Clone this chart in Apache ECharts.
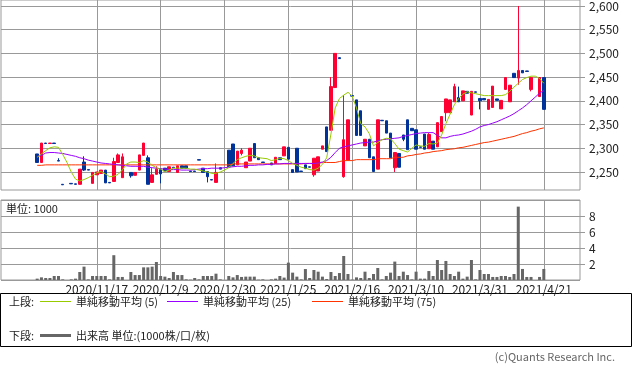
<!DOCTYPE html>
<html><head><meta charset="utf-8">
<script src="https://cdn.jsdelivr.net/npm/echarts@6/dist/echarts.min.js"></script>
<style>html,body{margin:0;padding:0;background:#fff}#c{width:633px;height:375px}</style>
</head><body><div id="c"></div>
<script>
const dates = [
'2020/10/27','2020/10/28','2020/10/29','2020/10/30',
'2020/11/2','2020/11/4','2020/11/5','2020/11/6','2020/11/9','2020/11/10','2020/11/11','2020/11/12','2020/11/13','2020/11/16','2020/11/17','2020/11/18','2020/11/19','2020/11/20','2020/11/24','2020/11/25','2020/11/26','2020/11/27','2020/11/30',
'2020/12/1','2020/12/2','2020/12/3','2020/12/4','2020/12/7','2020/12/8','2020/12/9','2020/12/10','2020/12/11','2020/12/14','2020/12/15','2020/12/16','2020/12/17','2020/12/18','2020/12/21','2020/12/22','2020/12/23','2020/12/24','2020/12/25','2020/12/28','2020/12/29','2020/12/30',
'2021/1/4','2021/1/5','2021/1/6','2021/1/7','2021/1/8','2021/1/12','2021/1/13','2021/1/14','2021/1/15','2021/1/18','2021/1/19','2021/1/20','2021/1/21','2021/1/22','2021/1/25','2021/1/26','2021/1/27','2021/1/28','2021/1/29',
'2021/2/1','2021/2/2','2021/2/3','2021/2/4','2021/2/5','2021/2/8','2021/2/9','2021/2/10','2021/2/12','2021/2/15','2021/2/16','2021/2/17','2021/2/18','2021/2/19','2021/2/22','2021/2/24','2021/2/25','2021/2/26',
'2021/3/1','2021/3/2','2021/3/3','2021/3/4','2021/3/5','2021/3/8','2021/3/9','2021/3/10','2021/3/11','2021/3/12','2021/3/15','2021/3/16','2021/3/17','2021/3/18','2021/3/19','2021/3/22','2021/3/23','2021/3/24','2021/3/25','2021/3/26','2021/3/29','2021/3/30','2021/3/31',
'2021/4/1','2021/4/2','2021/4/5','2021/4/6','2021/4/7','2021/4/8','2021/4/9','2021/4/12','2021/4/13','2021/4/14','2021/4/15','2021/4/16','2021/4/19','2021/4/20','2021/4/21'
];
const tickLabels = ['2020/11/17','2020/12/9','2020/12/30','2021/1/25','2021/2/16','2021/3/10','2021/3/31','2021/4/21'];
const priceTicks = [2250,2300,2350,2400,2450,2500,2550,2600];

const open = [
2288,2270,2311,2310,2311,2274,2224,null,2226,2225,
2224,2271,2255,2226,2244,2247,2254,2228,2230,2270,
2238,null,2249,2243,2254,2285,2280,2228,2245,2255,
2258,2251,2260,2249,2263,2263,2252,2252,2276,2258,
2251,2234,2228,2259,null,2296,2309,2265,2289,2259,
2273,2310,2280,2271,null,2269,2268,2280,2284,2302,
2255,2300,2252,2265,2261,2244,2252,2298,2345,2338,
2428,2491,2240,2275,2411,2402,2379,2305,2319,2282,
2256,2359,2358,2332,2259,2289,2328,2360,2342,2339,
2303,2330,2299,2315,2303,2335,2375,2375,2398,2407,
2400,2420,2370,2419,2405,2405,2382,2386,2404,2383,
2424,2398,2458,2448,2464,2463,2424,null,2409,2449];
const close = [
2270,2311,2310,2311,2310,2273,2223,null,2225,2224,
2256,2254,2254,2249,2250,2254,2227,2227,2272,2286,
2282,null,2242,2249,2286,2311,2224,2244,2256,2246,
2252,2261,2259,2263,2258,2258,2251,2251,2275,2249,
2240,2233,2249,2256,null,2261,2263,2294,2296,2271,
2300,2280,2276,2270,null,2265,2281,2276,2303,2277,
2249,2250,2251,2257,2260,2279,2282,2305,2293,2430,
2500,2489,2318,2360,2410,2327,2327,2319,2280,2251,
2360,2358,2332,2280,2291,2260,2319,2297,2337,2298,
2302,2298,2329,2298,2354,2367,2404,2402,2430,2398,
2421,2416,2420,2418,2400,2402,2403,2431,2401,2401,
2449,2433,2449,2464,2459,2462,2449,null,2449,2382];
const low = [
2270,2270,2310,2310,2310,2273,2223,null,2225,2224,
2224,2252,2254,2226,2244,2247,2227,2227,2230,2270,
2238,null,2238,2243,2254,2285,2224,2228,2245,2226,
2252,2251,2259,2249,2258,2258,2251,2251,2275,2249,
2228,2233,2228,2256,null,2261,2263,2265,2285,2259,
2273,2280,2276,2270,null,2265,2268,2276,2284,2277,
2249,2250,2251,2257,2260,2240,2252,2298,2293,2338,
2428,2489,2238,2275,2410,2327,2327,2305,2280,2251,
2256,2358,2332,2280,2250,2260,2315,2297,2337,2298,
2302,2298,2299,2298,2303,2335,2357,2375,2398,2398,
2400,2416,2370,2418,2382,2402,2382,2386,2401,2383,
2424,2398,2449,2434,2459,2462,2420,null,2409,2382];
const high = [
2288,2311,2311,2311,2311,2279,2224,null,2226,2225,
2256,2283,2255,2249,2250,2254,2254,2228,2280,2289,
2289,null,2249,2249,2286,2311,2285,2258,2262,2258,
2258,2261,2260,2263,2263,2263,2252,2252,2276,2258,
2251,2234,2268,2259,null,2296,2309,2294,2300,2271,
2300,2310,2280,2271,null,2269,2281,2280,2303,2302,
2255,2300,2252,2265,2261,2279,2282,2305,2345,2450,
2500,2491,2412,2360,2411,2402,2379,2319,2319,2282,
2360,2359,2358,2332,2291,2289,2328,2360,2342,2339,
2303,2330,2332,2315,2354,2367,2404,2402,2436,2430,
2421,2420,2420,2419,2405,2405,2403,2431,2404,2401,
2449,2433,2458,2600,2464,2463,2449,null,2449,2449];
const volume = [
0.17,0.33,0.25,0.25,0.5,0.5,0.08,0,0.08,0.17,
1.0,1.67,0.08,0.5,0.5,0.5,0.5,0.08,3.1,0.38,
0.38,0,1.0,0.62,0.62,1.58,1.58,1.67,2.25,0.5,
0.42,0.25,1.0,0.62,0.62,0.08,0.04,0.25,0.08,0.5,
0.5,0.5,0.79,0.08,0,0.5,0.33,0.62,0.38,0.42,
0.42,0.42,0.04,0.08,0,0.08,0.17,0.5,0.3,2.17,
0.92,0.42,0.08,1.37,0.25,1.25,1.04,0.42,0.12,1.0,
0.5,0.87,3.0,0.75,0.05,0.33,0.25,1.04,0.25,0.75,
1.5,0.08,0.5,0.92,2.3,0.5,1.04,0.62,0.08,1.04,
0.17,0.17,1.12,0.5,2.5,1.25,2.38,0.75,0.5,1.04,
0.17,0.42,2.5,0.08,1.25,0.75,0.75,0.38,0.38,0.5,
0.5,0.38,0.75,9.17,1.38,0.38,0.38,0,0.38,1.38];
const ma5 = [
2281,2288,2295,2301,2303,2302,2287,2270,2250,2235,
2231,2234,2238,2243,2248,2251,2246,2240,2241,2245,
2254,2267,2271,2271,2270,2274,2271,2264,2259,2256,
2251,2254,2258,2258,2258,2258,2256,2256,2254,2252,
2250,2247,2247,2250,2254,2259,2268,2276,2280,2283,
2285,2284,2280,2279,2278,2274,2276,2279,2278,2274,
2268,2264,2260,2258,2255,2254,2258,2266,2280,2330,
2385,2405,2412,2418,2410,2385,2352,2345,2331,2305,
2312,2318,2321,2320,2310,2298,2295,2292,2300,2307,
2305,2304,2310,2309,2311,2328,2352,2372,2392,2405,
2414,2419,2417,2415,2413,2411,2411,2411,2411,2411,
2413,2420,2429,2437,2445,2449,2452,2452,2447,2437];
const ma25 = [
2283,2285,2290,2291,2291,2290,2289,2287,2285,2283,
2280,2278,2275,2273,2271,2269,2268,2267,2266,2265,
2264,2263,2262,2262,2262,2262,2260,2259,2258,2257,
2256,2255,2255,2255,2254,2254,2254,2255,2256,2257,
2257,2258,2258,2258,2259,2260,2261,2262,2262,2263,
2264,2264,2265,2265,2266,2266,2267,2267,2268,2268,
2268,2268,2268,2268,2268,2268,2269,2271,2274,2281,
2291,2300,2303,2305,2307,2309,2311,2312,2313,2313,
2316,2318,2319,2320,2321,2322,2325,2327,2329,2331,
2332,2333,2333,2333,2327,2322,2322,2325,2327,2328,
2330,2333,2336,2340,2345,2348,2350,2353,2356,2360,
2364,2368,2373,2379,2385,2392,2400,2408,2416,2422];
const ma75 = [
2264,2264,2265,2265,2265,2265,2265,2265,2265,2265,
2265,2265,2265,2265,2265,2265,2265,2265,2265,2265,
2265,2265,2265,2265,2265,2265,2265,2265,2265,2265,
2265,2265,2265,2265,2265,2265,2265,2265,2265,2265,
2265,2265,2265,2265,2265,2265,2267,2267,2267,2267,
2267,2267,2267,2267,2267,2267,2267,2267,2267,2267,
2267,2267,2267,2268,2268,2268,2268,2270,2270,2270,
2270,2272,2274,2274,2274,2276,2276,2276,2276,2276,
2278,2278,2278,2278,2281,2281,2281,2284,2285,2287,
2288,2290,2291,2293,2294,2295,2297,2298,2299,2301,
2302,2304,2306,2308,2310,2312,2313,2315,2317,2319,
2321,2323,2325,2328,2331,2333,2336,2338,2341,2343];

const PAD = 8;
const padL = Array.from({length: PAD}, (_, k) => 'padL' + k);
const padR = Array.from({length: PAD}, (_, k) => 'padR' + k);
const cats = padL.concat(dates, padR);
const blank = Array.from({length: PAD}, () => '-');
const wrap = arr => blank.concat(arr.map(v => v == null ? '-' : v), blank);
const candles = blank.concat(dates.map((d, i) => open[i] == null ? '-' : [open[i], close[i], low[i], high[i]]), blank);

const FONT = '"Noto Sans CJK JP", "Noto Sans", sans-serif';
const UP = '#ff0033', DOWN = '#003399', GRID = '#999999';
const showTick = (idx, val) => tickLabels.indexOf(val) >= 0;
const names = ['単純移動平均 (5)', '単純移動平均 (25)', '単純移動平均 (75)', '出来高 単位:(1000株/口/枚)'];

const xBase = (gi, labels) => ({
  type: 'category', gridIndex: gi, data: cats, boundaryGap: true,
  axisLine: {show: false}, axisTick: {show: false},
  axisLabel: labels ? {show: true, interval: showTick, color: '#222', fontSize: 12, fontFamily: FONT, margin: 3} : {show: false},
  splitLine: {show: true, interval: showTick, alignWithLabel: true, lineStyle: {color: GRID, width: 1}}
});

const chart = echarts.init(document.getElementById('c'), null, {renderer: 'canvas'});
const legendBase = {icon: 'rect', itemWidth: 31, padding: 0, selectedMode: false,
  textStyle: {fontSize: 11, color: '#222', fontFamily: FONT}};
chart.setOption({
  animation: false,
  backgroundColor: '#fff',
  textStyle: {fontFamily: FONT},
  grid: [
    {left: 1, top: 0, width: 579, height: 190, show: true, borderColor: GRID, borderWidth: 1, containLabel: false, outerBoundsMode: 'none'},
    {left: 1, top: 200, width: 579, height: 80, show: true, borderColor: GRID, borderWidth: 1, containLabel: false, outerBoundsMode: 'none'}
  ],
  xAxis: [xBase(0, false), xBase(1, true)],
  yAxis: [
    {type: 'value', gridIndex: 0, position: 'right', min: 2212, max: 2612.6, scale: true,
     axisLine: {show: false},
     axisTick: {show: true, inside: false, length: 5, customValues: priceTicks, lineStyle: {color: GRID}},
     axisLabel: {customValues: priceTicks, margin: 9, color: '#222', fontSize: 12, fontFamily: FONT,
       formatter: v => Number(v).toLocaleString('en-US')},
     splitLine: {show: true, lineStyle: {color: GRID, width: 1}}},
    {type: 'value', gridIndex: 1, position: 'right', min: 0, max: 10, interval: 2,
     axisLine: {show: false},
     axisTick: {show: true, inside: false, length: 5, lineStyle: {color: GRID}},
     axisLabel: {margin: 9, color: '#222', fontSize: 12, fontFamily: FONT, showMinLabel: false, showMaxLabel: false},
     splitLine: {show: true, lineStyle: {color: GRID, width: 1}}}
  ],
  legend: [
    Object.assign({data: [names[0]], left: 40, top: 296, itemHeight: 1}, legendBase),
    Object.assign({data: [names[1]], left: 167, top: 296, itemHeight: 1}, legendBase),
    Object.assign({data: [names[2]], left: 312, top: 296, itemHeight: 1}, legendBase),
    Object.assign({data: [names[3]], left: 40, top: 330, itemHeight: 3}, legendBase)
  ],
  series: [
    {type: 'candlestick', xAxisIndex: 0, yAxisIndex: 0, data: candles, barWidth: 3, z: 2,
     itemStyle: {color: UP, color0: DOWN, borderColor: UP, borderColor0: DOWN, borderWidth: 1}},
    {name: names[2], type: 'line', xAxisIndex: 0, yAxisIndex: 0, data: wrap(ma75), showSymbol: false, symbol: 'none',
     color: '#ff3300', lineStyle: {width: 1, color: '#ff3300'}, z: 3},
    {name: names[1], type: 'line', xAxisIndex: 0, yAxisIndex: 0, data: wrap(ma25), showSymbol: false, symbol: 'none',
     color: '#9900ff', lineStyle: {width: 1, color: '#9900ff'}, z: 4},
    {name: names[0], type: 'line', xAxisIndex: 0, yAxisIndex: 0, data: wrap(ma5), showSymbol: false, symbol: 'none',
     color: '#99cc00', lineStyle: {width: 1, color: '#99cc00'}, z: 5},
    {name: names[3], type: 'bar', xAxisIndex: 1, yAxisIndex: 1, data: wrap(volume), barWidth: 3,
     color: '#666666', itemStyle: {color: '#666666'}}
  ],
  graphic: [
    {type: 'rect', shape: {x: 0.5, y: 293.5, width: 631, height: 53}, style: {fill: 'none', stroke: '#000', lineWidth: 1}, silent: true},
    {type: 'text', left: 9, top: 296, style: {text: '上段:', fontSize: 11, fill: '#222', fontFamily: FONT}},
    {type: 'text', left: 9, top: 330, style: {text: '下段:', fontSize: 11, fill: '#222', fontFamily: FONT}},
    {type: 'text', left: 6, top: 203, style: {text: '単位: 1000', fontSize: 11, fill: '#222', fontFamily: FONT}},
    {type: 'text', right: 18, top: 351, style: {text: '(c)Quants Research Inc.', fontSize: 11, fill: '#666', fontFamily: FONT}}
  ]
});
</script>
</body></html>
